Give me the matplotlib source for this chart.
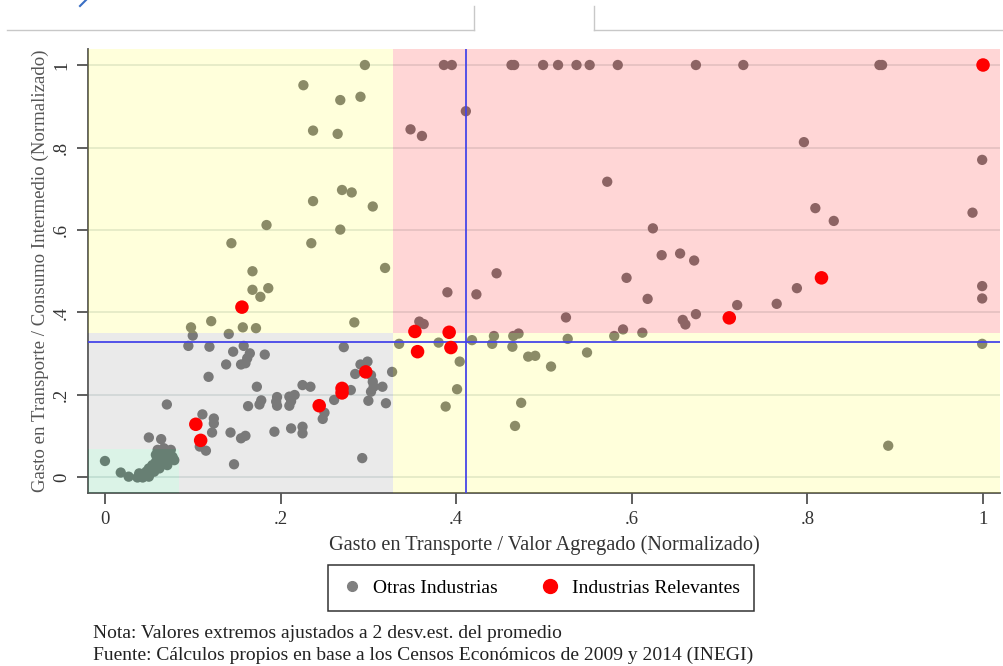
import matplotlib
matplotlib.use("Agg")
import matplotlib.pyplot as plt
from matplotlib.patches import Rectangle, Polygon
from matplotlib.lines import Line2D

plt.rcParams["font.family"] = ["Liberation Serif", "DejaVu Serif"]

# Otras industrias (normalizado)
otras_x = [
    0.296, 0.386, 0.395, 0.463, 0.466, 0.499, 0.516, 0.537, 0.552, 0.584, 0.673, 0.727, 0.882, 0.885,
    0.226, 0.268, 0.291, 0.237, 0.265, 0.270, 0.281, 0.237, 0.305, 0.184, 0.268, 0.144, 0.235, 0.319,
    0.168, 0.168, 0.186, 0.177, 0.121, 0.284, 0.098, 0.157, 0.172,
    0.411, 0.348, 0.361, 0.572, 0.796, 0.999, 0.809, 0.830, 0.988, 0.624, 0.634, 0.655, 0.671, 0.446,
    0.594, 0.423, 0.390, 0.618, 0.525, 0.658, 0.661, 0.673, 0.358, 0.363, 0.590, 0.612, 0.788, 0.999,
    0.999, 0.720, 0.765,
    0.335, 0.380, 0.404, 0.401, 0.388, 0.418, 0.443, 0.441, 0.465, 0.471, 0.464, 0.482, 0.490, 0.508,
    0.474, 0.467, 0.527, 0.549, 0.580, 0.999, 0.892,
    0.100, 0.141, 0.095, 0.119, 0.158, 0.146, 0.165, 0.182, 0.162, 0.160, 0.155, 0.138, 0.272, 0.291,
    0.299, 0.285, 0.327, 0.303, 0.305, 0.306, 0.316, 0.303, 0.300, 0.320, 0.280, 0.261, 0.250, 0.248,
    0.225, 0.234, 0.210, 0.216, 0.212, 0.210, 0.212, 0.225, 0.225, 0.118, 0.173, 0.163, 0.176, 0.178,
    0.196, 0.195, 0.196, 0.0705, 0.111, 0.124, 0.124, 0.122, 0.108, 0.115, 0.143, 0.155, 0.160, 0.193,
    0.147, 0.293, 0.050, 0.064,
    0.000, 0.018, 0.027, 0.037, 0.043, 0.047, 0.050, 0.054, 0.058, 0.062, 0.066, 0.071, 0.060, 0.067,
    0.075, 0.077, 0.079, 0.066, 0.056, 0.050, 0.043, 0.062, 0.071, 0.058, 0.069, 0.039,
]
otras_y = [
    1.000, 1.000, 1.000, 1.000, 1.000, 1.000, 1.000, 1.000, 1.000, 1.000, 1.000, 1.000, 1.000, 1.000,
    0.951, 0.915, 0.923, 0.841, 0.833, 0.697, 0.691, 0.670, 0.657, 0.612, 0.601, 0.568, 0.568, 0.508,
    0.500, 0.455, 0.459, 0.438, 0.379, 0.376, 0.364, 0.364, 0.362,
    0.888, 0.844, 0.828, 0.717, 0.813, 0.770, 0.653, 0.622, 0.642, 0.604, 0.539, 0.543, 0.526, 0.495,
    0.484, 0.444, 0.449, 0.433, 0.388, 0.382, 0.371, 0.396, 0.378, 0.372, 0.359, 0.351, 0.459, 0.464,
    0.434, 0.418, 0.421,
    0.324, 0.327, 0.281, 0.214, 0.172, 0.333, 0.343, 0.324, 0.343, 0.349, 0.317, 0.293, 0.295, 0.269,
    0.181, 0.125, 0.336, 0.303, 0.343, 0.324, 0.077,
    0.344, 0.348, 0.319, 0.317, 0.319, 0.305, 0.301, 0.298, 0.289, 0.277, 0.274, 0.274, 0.316, 0.274,
    0.281, 0.251, 0.256, 0.248, 0.232, 0.220, 0.220, 0.208, 0.186, 0.180, 0.212, 0.188, 0.157, 0.142,
    0.224, 0.220, 0.196, 0.200, 0.185, 0.174, 0.119, 0.123, 0.107, 0.244, 0.220, 0.173, 0.177, 0.187,
    0.195, 0.184, 0.174, 0.177, 0.153, 0.143, 0.131, 0.109, 0.075, 0.065, 0.109, 0.095, 0.101, 0.111,
    0.032, 0.047, 0.097, 0.093,
    0.040, 0.012, 0.002, 0.000, 0.006, 0.014, 0.022, 0.030, 0.038, 0.047, 0.055, 0.063, 0.067, 0.071,
    0.067, 0.050, 0.042, 0.034, 0.014, 0.002, 0.000, 0.022, 0.030, 0.055, 0.047, 0.010,
]

# Industrias relevantes
relev_x = [1.000, 0.156, 0.353, 0.392, 0.356, 0.394, 0.711, 0.816, 0.297, 0.270, 0.270, 0.244, 0.1035, 0.109]
relev_y = [1.000, 0.413, 0.354, 0.352, 0.305, 0.315, 0.387, 0.484, 0.256, 0.216, 0.205, 0.174, 0.129, 0.090]

# umbrales de los cuadrantes y promedios
corte_x, corte_y = 0.328, 0.350
verde_x, verde_y = 0.084, 0.069
prom_x, prom_y = 0.411, 0.3285

W, H = 1004, 666
fig = plt.figure(figsize=(W / 100, H / 100), dpi=100)
ax = fig.add_axes([88 / W, 1 - 493 / H, (1000 - 88) / W, (493 - 49) / H])

xmin, xmax = -0.0193, 1.0193
ymin, ymax = -0.0376, 1.0388
ax.set_xlim(xmin, xmax)
ax.set_ylim(ymin, ymax)

yticks = [0, 0.2, 0.4, 0.6, 0.8, 1]
ticklab = ["0", ".2", ".4", ".6", ".8", "1"]
for t in yticks:
    ax.axhline(t, color="#dfe5e5", lw=1.2, zorder=1)

ax.scatter(otras_x, otras_y, s=55, color="#787878", edgecolors="none", zorder=2)

# zonas sombreadas por encima de los puntos grises
ax.add_patch(Rectangle((xmin, corte_y), corte_x - xmin, ymax - corte_y,
                       facecolor=(1, 1, 0), alpha=0.14, lw=0, zorder=3))
ax.add_patch(Rectangle((corte_x, corte_y), xmax - corte_x, ymax - corte_y,
                       facecolor=(1, 0, 0), alpha=0.16, lw=0, zorder=3))
ax.add_patch(Rectangle((corte_x, ymin), xmax - corte_x, corte_y - ymin,
                       facecolor=(1, 1, 0), alpha=0.14, lw=0, zorder=3))
ax.add_patch(Polygon([(xmin, verde_y), (xmin, corte_y), (corte_x, corte_y), (corte_x, ymin),
                      (verde_x, ymin), (verde_x, verde_y)],
                     closed=True, facecolor=(0.5, 0.5, 0.5), alpha=0.16, lw=0, zorder=3))
ax.add_patch(Rectangle((xmin, ymin), verde_x - xmin, verde_y - ymin,
                       facecolor=(0, 0.69, 0.35), alpha=0.14, lw=0, zorder=3))

ax.axvline(prom_x, color="#4646e8", lw=1.3, zorder=4)
ax.axhline(prom_y, color="#4646e8", lw=1.3, zorder=4)

ax.scatter(relev_x, relev_y, s=95, color="#ff0000", edgecolors="none", zorder=5)

ax.set_xticks(yticks)
ax.set_xticklabels(ticklab)
ax.set_yticks(yticks)
ax.set_yticklabels(ticklab, rotation=90, va="center")
ax.tick_params(axis="both", length=8, width=1.1, color="#333333", labelsize=13.5,
               labelcolor="#333333", pad=5)
for side in ("top", "right"):
    ax.spines[side].set_visible(False)
for side in ("left", "bottom"):
    ax.spines[side].set_color("#555555")
    ax.spines[side].set_linewidth(1.3)

ax.set_xlabel("Gasto en Transporte / Valor Agregado (Normalizado)", fontsize=14.6,
              color="#333333", labelpad=5)
ax.set_ylabel("Gasto en Transporte / Consumo Intermedio (Normalizado)", fontsize=13.6,
              color="#555555", labelpad=3)

handles = [
    Line2D([], [], ls="none", marker="o", ms=7, color="#808080", label="Otras Industrias"),
    Line2D([], [], ls="none", marker="o", ms=10, color="#ff0000", label="Industrias Relevantes"),
]
leg = fig.legend(handles=handles, loc="center", bbox_to_anchor=(541 / W, 1 - 588 / H), ncol=2,
                 frameon=True, fancybox=False, edgecolor="black", fontsize=14,
                 handletextpad=0.6, columnspacing=2.2, borderpad=0.75, handlelength=1.0)
leg.get_frame().set_linewidth(1.1)

fig.text(93 / W, 1 - 633 / H, "Nota: Valores extremos ajustados a 2 desv.est. del promedio",
         fontsize=14, va="center", color="#222222")
fig.text(93 / W, 1 - 655 / H,
         "Fuente: Cálculos propios en base a los Censos Económicos de 2009 y 2014 (INEGI)",
         fontsize=14, va="center", color="#222222")

# restos del marco superior
fig.add_artist(Line2D([7 / W, 474 / W], [1 - 30 / H, 1 - 30 / H], color="#c8c8c8", lw=1))
fig.add_artist(Line2D([474 / W, 474 / W], [1 - 6 / H, 1 - 30 / H], color="#c8c8c8", lw=1))
fig.add_artist(Line2D([594 / W, 594 / W], [1 - 6 / H, 1 - 30 / H], color="#c8c8c8", lw=1))
fig.add_artist(Line2D([594 / W, 1.0], [1 - 30 / H, 1 - 30 / H], color="#c8c8c8", lw=1))
fig.add_artist(Line2D([80 / W, 86 / W], [1 - 6 / H, 1.0], color="#3a6fc4", lw=1.5))

fig.savefig("out.png", dpi=100)
